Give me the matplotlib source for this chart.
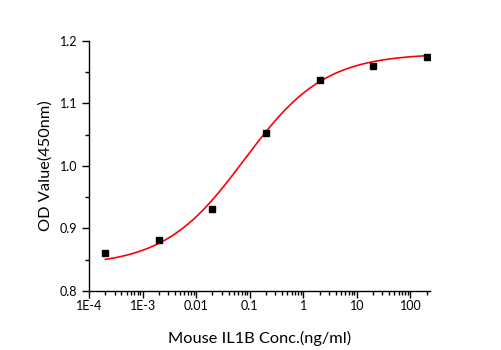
import matplotlib

matplotlib.use("Agg")
import matplotlib.pyplot as plt  # noqa: E402
import numpy as np  # noqa: E402
from matplotlib.ticker import FixedLocator, LogLocator, NullFormatter  # noqa: E402

# Standard curve points
conc = [2e-4, 2e-3, 0.02, 0.2, 2, 20, 200]
od = [0.861, 0.882, 0.931, 1.052, 1.138, 1.160, 1.174]

# 4-parameter logistic fit
bottom, top, ec50, hill = 0.84, 1.18, 0.079, 0.58

xticks = [1e-4, 1e-3, 0.01, 0.1, 1, 10, 100]
xtick_labels = ["1E-4", "1E-3", "0.01", "0.1", "1", "10", "100"]
yticks = [0.8, 0.9, 1.0, 1.1, 1.2]

plt.rcParams["font.family"] = ["Lato", "DejaVu Sans"]

fig = plt.figure(figsize=(5.01, 3.5), dpi=100)
ax = fig.add_axes([0.178, 0.169, 0.68, 0.714])

xs = np.logspace(np.log10(conc[0]), np.log10(conc[-1]), 300)
fit = top + (bottom - top) / (1 + (xs / ec50) ** hill)
ax.plot(xs, fit, color="red", lw=1.2, zorder=2)
ax.plot(conc, od, ls="none", marker="s", ms=4.3, color="black", zorder=3)

ax.set_xscale("log")
ax.set_xlim(1e-4, 230)
ax.set_ylim(0.8, 1.2)
ax.set_xticks(xticks)
ax.set_xticklabels(xtick_labels)
ax.xaxis.set_minor_locator(LogLocator(base=10, subs=np.arange(2, 10), numticks=20))
ax.xaxis.set_minor_formatter(NullFormatter())
ax.set_yticks(yticks)
ax.set_yticklabels([f"{v:.1f}" for v in yticks])
ax.yaxis.set_minor_locator(FixedLocator([0.85, 0.95, 1.05, 1.15]))

for side in ("top", "right"):
    ax.spines[side].set_visible(False)
for side in ("left", "bottom"):
    ax.spines[side].set_linewidth(1.0)

ax.tick_params(which="major", direction="out", length=5, width=1, labelsize=9)
ax.tick_params(axis="x", which="major", pad=1.5)
ax.tick_params(which="minor", direction="out", length=3, width=1)

ax.set_xlabel("Mouse IL1B Conc.(ng/ml)", fontsize=11.8, labelpad=14)
ax.set_ylabel("OD Value(450nm)", fontsize=11.8, labelpad=5)

fig.savefig("out.png", dpi=100)
